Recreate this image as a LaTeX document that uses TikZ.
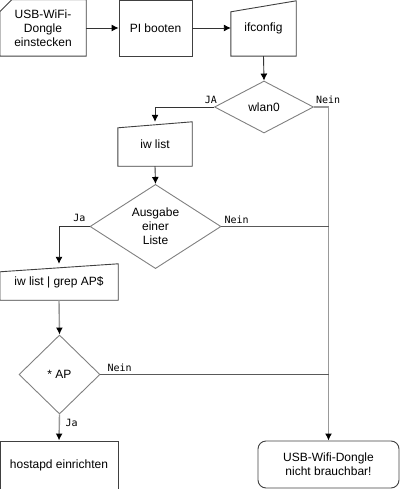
\documentclass[tikz,border=0pt]{standalone}
\usepackage{fontspec}
\setmainfont{Liberation Sans}
\newfontfamily\lblfont{DejaVu Sans Mono}
\usetikzlibrary{shapes.geometric,arrows.meta,calc}

\tikzset{
  box/.style={rectangle,draw=black!75,line width=0.9pt,inner sep=0pt,
    align=center,font=\fontsize{12}{14}\selectfont},
  plain/.style={rectangle,inner sep=0pt,align=center,
    font=\fontsize{12}{14}\selectfont},
  shapeline/.style={draw=black!75,line width=0.9pt},
  decision/.style={diamond,draw=gray,line width=0.9pt,inner sep=0pt,
    align=center,font=\fontsize{12}{14}\selectfont},
  lbl/.style={font=\lblfont\fontsize{10}{12}\selectfont,inner sep=1pt},
  flow/.style={draw=black!80,line width=0.9pt,-{Latex[length=7pt,width=7pt,black]}},
  nope/.style={draw=gray!80,line width=1.4pt},
  nopearrow/.style={nope,-{Latex[length=7pt,width=7pt,black]}}
}

\begin{document}
\begin{tikzpicture}[x=1pt,y=-1pt]
  \useasboundingbox (0,0) rectangle (400,489);

  % Top row
  \node[plain,minimum width=86,minimum height=56] (card) at (43,28)
        {USB-WiFi-\\Dongle\\einstecken};
  \draw[shapeline] ($(card.north west)+(0,12)$) -- ($(card.north west)+(12,0)$)
        -- (card.north east) -- (card.south east) -- (card.south west) -- cycle;
  \node[box,minimum width=73,minimum height=56] (pi) at (155.5,28) {PI booten};
  \node[plain,minimum width=65,minimum height=55] (ifc) at (263.5,28.5) {\raisebox{-5pt}{ifconfig}};
  \draw[shapeline] ($(ifc.north west)+(0,11)$) -- (ifc.north east)
        -- (ifc.south east) -- (ifc.south west) -- cycle;

  % Checks
  \node[decision,minimum width=99,minimum height=52] (wlan) at (264,107) {wlan0};
  \node[plain,minimum width=74,minimum height=44] (iwl) at (155,144) {\raisebox{-3pt}{iw list}};
  \draw[shapeline] ($(iwl.north west)+(0,6)$) -- (iwl.north east)
        -- (iwl.south east) -- (iwl.south west) -- cycle;
  \node[decision,minimum width=131,minimum height=73] (ausg) at (155.5,226.5)
        {Ausgabe\\einer\\Liste};
  \node[plain,minimum width=118,minimum height=36] (grep) at (59,282) {\raisebox{-3pt}{iw list | grep AP\$}};
  \draw[shapeline] ($(grep.north west)+(0,8)$) -- (grep.north east)
        -- (grep.south east) -- (grep.south west) -- cycle;
  \node[decision,minimum width=81,minimum height=79] (ap) at (59.5,374.5) {* AP};

  % End states
  \node[box,minimum width=118,minimum height=48] (host) at (59,465) {hostapd einrichten};
  \node[box,rounded corners=8pt,minimum width=141,minimum height=47] (fail) at (328.5,464.5)
        {USB-Wifi-Dongle\\nicht brauchbar!};

  % Connectors
  \draw[flow] (card.east) -- (pi.west);
  \draw[flow] (pi.east) -- (pi.east -| ifc.west);
  \draw[flow] (ifc.south) -- (wlan.north);
  \draw[flow] (wlan.west) -| (iwl.north);
  \draw[flow] (iwl.south) -- (ausg.north);
  \draw[flow] (ausg.west) -| (grep.north);
  \draw[nopearrow] (grep.south) -- (ap.north);
  \draw[nopearrow] (ap.south) -- (host.north);

  % Nein branches
  \coordinate (j1) at (ausg.east -| fail.north);
  \coordinate (j2) at (ap.east -| fail.north);
  \draw[nopearrow] (wlan.east) -| (fail.north);
  \draw[nope,draw=black!65,line width=0.9pt] (ausg.east) -- (j1);
  \draw[nope,draw=black!65,line width=0.9pt] (ap.east) -- (j2);

  % Labels
  \node[lbl,anchor=south east] (l1) at ($(wlan.west)+(4,-2)$) {JA};
  \node[lbl,anchor=south west] (l2) at ($(wlan.east)+(1,-2)$) {Nein};
  \node[lbl,anchor=south east] (l3) at ($(ausg.west)+(-3,-4)$) {Ja};
  \node[lbl,anchor=south west] (l4) at ($(ausg.east)+(2,-2)$) {Nein};
  \node[lbl,anchor=south west] (l5) at ($(ap.east)+(6,-2)$) {Nein};
  \node[lbl,anchor=north west] (l6) at ($(ap.south)+(5,4)$) {Ja};
\end{tikzpicture}
\end{document}
